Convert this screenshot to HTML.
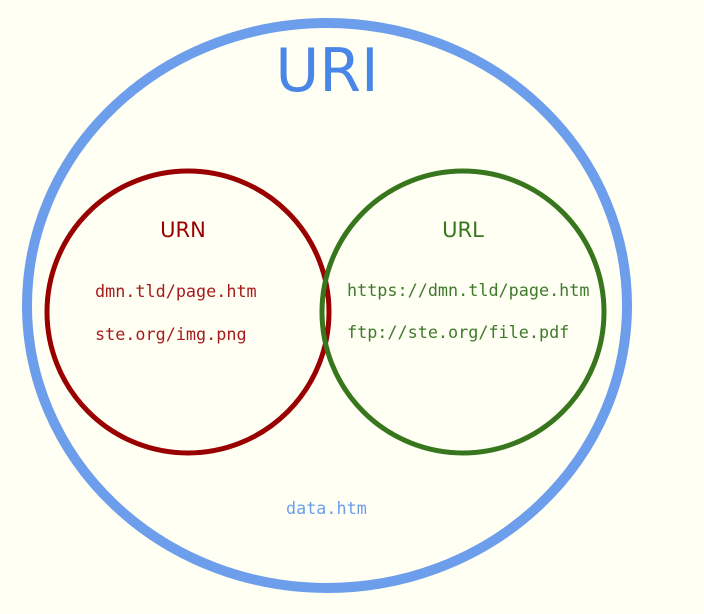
<!DOCTYPE html>
<html><head><meta charset="utf-8"><style>
html,body{margin:0;padding:0;background:#fffff4;}
svg{display:block}
</style></head><body>
<svg width="704" height="614" viewBox="0 0 704 614" xmlns="http://www.w3.org/2000/svg">
<rect width="704" height="614" fill="#fffff4"/>
<ellipse cx="327" cy="305.5" rx="300" ry="282.5" fill="none" stroke="#6d9eeb" stroke-width="10"/>
<circle cx="188" cy="312" r="141" fill="none" stroke="#990000" stroke-width="5"/>
<circle cx="463" cy="312" r="141" fill="none" stroke="#38761d" stroke-width="5"/>
<text x="327" y="91" text-anchor="middle" font-family="'DejaVu Sans','Liberation Sans',sans-serif" font-size="60" fill="#4a86e8">URI</text>
<text x="183" y="237" text-anchor="middle" font-family="'DejaVu Sans','Liberation Sans',sans-serif" font-size="21" fill="#990000">URN</text>
<text x="463" y="237" text-anchor="middle" font-family="'DejaVu Sans','Liberation Sans',sans-serif" font-size="21" fill="#38761d">URL</text>
<g font-family="'DejaVu Sans Mono','Liberation Mono',monospace" font-size="16.8">
<text x="95" y="297" fill="#a61c1c">dmn.tld/page.htm</text>
<text x="95" y="340" fill="#a61c1c">ste.org/img.png</text>
<text x="347" y="296" fill="#3f7a2a">https://dmn.tld/page.htm</text>
<text x="347" y="338" fill="#3f7a2a">ftp://ste.org/file.pdf</text>
<text x="286" y="514" fill="#6d9eeb">data.htm</text>
</g>
</svg>
</body></html>
